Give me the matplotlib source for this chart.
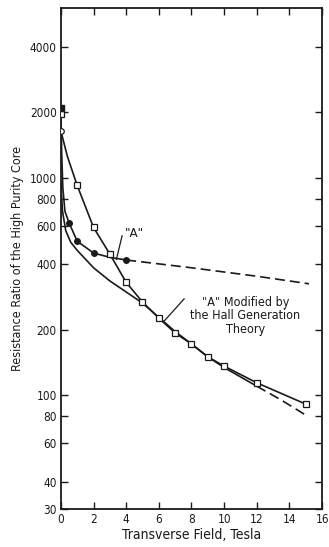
import matplotlib
matplotlib.use('Agg')
import matplotlib.pyplot as plt
from matplotlib.ticker import FixedLocator, NullLocator, FixedFormatter

plt.rcParams['font.family'] = ['DejaVu Sans']
plt.rcParams['font.stretch'] = 'condensed'

# measured points, open squares
sq_field = [0, 1, 2, 3, 4, 5, 6, 7, 8, 9, 10, 12, 15]
sq_ratio = [1950, 920, 590, 445, 330, 268, 226, 193, 172, 150, 136, 114, 91]

# line drawn through the squares (starts at the open circle)
sq_curve_x = [0, 0, 0.4, 1, 2, 3, 4, 5, 6, 7, 8, 9, 10, 12, 15]
sq_curve_y = [1950, 1640, 1250, 920, 590, 445, 330, 268, 226, 193, 172, 150, 136, 114, 91]

# measured points "A", filled circles
a_field = [0.5, 1, 2, 4]
a_ratio = [620, 510, 450, 418]

# curve "A" (solid part, then dashed extrapolation)
a_curve_x = [0, 0.05, 0.12, 0.25, 0.5, 1, 2, 3, 4]
a_curve_y = [2080, 1300, 900, 700, 620, 510, 450, 430, 418]
a_dash_x = [4, 8, 12, 15.2]
a_dash_y = [418, 385, 352, 325]

# "A" modified by Hall generation theory
hall_x = [0, 0.1, 0.3, 0.6, 1, 2, 3, 4, 5, 6, 7, 8, 9, 10, 12]
hall_y = [950, 700, 570, 505, 463, 385, 335, 298, 265, 228, 196, 172, 150, 134, 110]
hall_dash_x = [12, 13.5, 15]
hall_dash_y = [110, 95, 81]

# extra points at zero field
zero_filled = [2080]
zero_circle = [1640]

yticks = [30, 40, 60, 80, 100, 200, 400, 600, 800, 1000, 2000, 4000]
xticks = [0, 2, 4, 6, 8, 10, 12, 14, 16]

ink = '#1a1a1a'

fig = plt.figure(figsize=(3.29, 5.47), dpi=100)
ax = fig.add_axes([0.185, 0.0695, 0.794, 0.9155])

ax.plot(sq_curve_x, sq_curve_y, color=ink, lw=1.2, zorder=2)
ax.plot(sq_field, sq_ratio, ls='none', marker='s', ms=4,
        mfc='white', mec=ink, mew=0.9, zorder=3)
ax.plot(a_curve_x, a_curve_y, color=ink, lw=1.2, zorder=2)
ax.plot(a_dash_x, a_dash_y, color=ink, lw=1.2, ls=(0, (6, 3)), zorder=2)
ax.plot(a_field, a_ratio, ls='none', marker='o', ms=4, color=ink, zorder=4)
ax.plot([0], zero_filled, ls='none', marker='s', ms=4.5, color=ink, zorder=4)
ax.plot([0], zero_circle, ls='none', marker='o', ms=4, mfc='white',
        mec=ink, mew=0.9, zorder=4)
ax.plot(hall_x, hall_y, color=ink, lw=1.2, zorder=2)
ax.plot(hall_dash_x, hall_dash_y, color=ink, lw=1.2, ls=(0, (6, 3)), zorder=2)

ax.set_yscale('log')
ax.set_xlim(0, 16)
ax.set_ylim(30, 6000)

ax.yaxis.set_major_locator(FixedLocator(yticks))
ax.yaxis.set_major_formatter(FixedFormatter([str(t) for t in yticks]))
ax.yaxis.set_minor_locator(NullLocator())
ax.set_xticks(xticks)
ax.set_xticklabels([str(t) for t in xticks])

ax.tick_params(direction='in', length=5, width=1, colors=ink,
               top=True, right=True, labelsize=8.5, pad=3)
for s in ax.spines.values():
    s.set_linewidth(1.3)
    s.set_color(ink)

ax.set_xlabel('Transverse Field, Tesla', fontsize=10, color=ink, labelpad=1)
ax.set_ylabel('Resistance Ratio of the High Purity Core', fontsize=9,
              color=ink, labelpad=4)

# annotations
ax.plot([3.4, 3.75], [420, 540], color=ink, lw=0.9)
ax.text(3.9, 555, '"A"', fontsize=9.5, color=ink, va='center', ha='left')
ax.plot([6.35, 7.55], [220, 277], color=ink, lw=0.9)
ax.text(11.3, 232, '"A" Modified by\nthe Hall Generation\nTheory', fontsize=9,
        color=ink, ha='center', va='center', linespacing=1.05)

fig.savefig('out.png', dpi=100)
